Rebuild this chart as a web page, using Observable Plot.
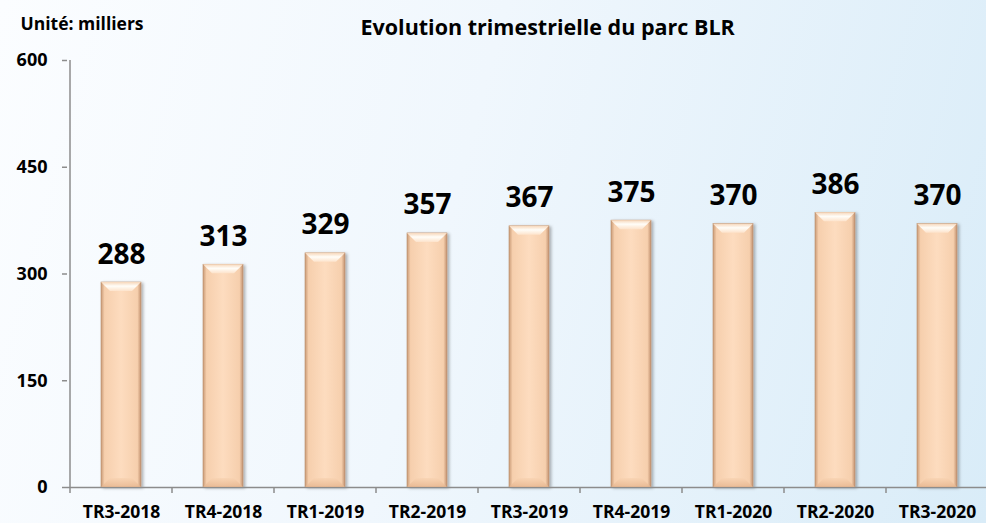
<!DOCTYPE html>
<html>
<head>
<meta charset="utf-8">
<script src="https://cdn.jsdelivr.net/npm/d3@7"></script>
<script src="https://cdn.jsdelivr.net/npm/@observablehq/plot@0.6"></script>
<style>
  html, body { margin: 0; padding: 0; width: 986px; height: 523px; overflow: hidden;
    background: linear-gradient(105deg, #fbfdff 0%, #f0f7fd 45%, #d9ecf8 100%); }
  #chart svg { display: block; }
</style>
</head>
<body>
<div id="chart"></div>
<script>
const categories = ["TR3-2018","TR4-2018","TR1-2019","TR2-2019","TR3-2019","TR4-2019","TR1-2020","TR2-2020","TR3-2020"];
const values = [288, 313, 329, 357, 367, 375, 370, 386, 370];
const yTicks = [0, 150, 300, 450, 600];
const title = "Evolution trimestrielle du parc BLR";
const unitLabel = "Unité: milliers";

const data = categories.map((c, i) => ({cat: c, value: values[i]}));
const font = "'Open Sans', 'DejaVu Sans', sans-serif";
const axisColor = "#8c8c8c";

const defs = () => {
  const g = d3.create("svg:defs");
  const body = g.append("linearGradient").attr("id", "barBody").attr("x1", 0).attr("x2", 1).attr("y1", 0).attr("y2", 0);
  body.append("stop").attr("offset", "0%").attr("stop-color", "#c99a76");
  body.append("stop").attr("offset", "9%").attr("stop-color", "#f6cfad");
  body.append("stop").attr("offset", "50%").attr("stop-color", "#fddcbf");
  body.append("stop").attr("offset", "91%").attr("stop-color", "#f6cfad");
  body.append("stop").attr("offset", "100%").attr("stop-color", "#c29270");
  const cap = g.append("linearGradient").attr("id", "barCap").attr("x1", 0).attr("x2", 0).attr("y1", 0).attr("y2", 1);
  cap.append("stop").attr("offset", "0%").attr("stop-color", "#f7d7ba");
  cap.append("stop").attr("offset", "45%").attr("stop-color", "#fffdf8");
  cap.append("stop").attr("offset", "100%").attr("stop-color", "#fde3cb");
  const bot = g.append("linearGradient").attr("id", "barBot").attr("x1", 0).attr("x2", 0).attr("y1", 0).attr("y2", 1);
  bot.append("stop").attr("offset", "0%").attr("stop-color", "#f8d3b2");
  bot.append("stop").attr("offset", "100%").attr("stop-color", "#e6b58e");
  const f = g.append("filter").attr("id", "shadow").attr("x", "-30%").attr("y", "-10%").attr("width", "160%").attr("height", "130%");
  f.append("feDropShadow").attr("dx", 2).attr("dy", 1).attr("stdDeviation", 1.5).attr("flood-color", "#000").attr("flood-opacity", 0.3);
  return g.node();
};

const chart = Plot.plot({
  width: 986,
  height: 523,
  marginTop: 60,
  marginBottom: 36,
  marginLeft: 67,
  marginRight: -5,
  style: {background: "transparent", fontFamily: font, color: "#000", overflow: "visible"},
  x: {domain: categories, paddingInner: 0.61, paddingOuter: 0.305, label: null, axis: null},
  y: {domain: [0, 600], label: null, axis: null},
  marks: [
    defs,
    Plot.barY(data, {x: "cat", y: "value", fill: "url(#barBody)", stroke: "#b98e6c", strokeWidth: 0.6}),
    Plot.axisY({ticks: yTicks, tickSize: 5, tickPadding: 15, stroke: axisColor, strokeWidth: 1.5, fontSize: 18, fontWeight: "bold", fill: "#000", label: null, tickFormat: d => d}),
    Plot.ruleY([0], {stroke: axisColor, strokeWidth: 1.5}),
    Plot.axisX({tickSize: 0, tickPadding: 18, fontSize: 17.5, fontWeight: "bold", fill: "#000", label: null}),
    Plot.text(data, {x: "cat", y: "value", text: d => String(d.value), lineAnchor: "bottom", dy: -19, fontSize: 28, fontWeight: "bold", fill: "#000"}),
    Plot.text([title], {frameAnchor: "top-left", textAnchor: "start", lineAnchor: "bottom", dx: 293, dy: -26, fontSize: 21.5, fontWeight: "bold", fill: "#000"}),
    Plot.text([unitLabel], {frameAnchor: "top-left", textAnchor: "start", lineAnchor: "bottom", dx: -47, dy: -31, fontSize: 17.5, fontWeight: "bold", fill: "#000"})
  ]
});

const root = d3.select(chart);
const xs = chart.scale("x");
const ys = chart.scale("y");
const bw = xs.bandwidth;
const step = xs.step;
const y0 = ys.apply(0);
const xLeft = xs.apply(categories[0]) - (step - bw) / 2;

// shadow on bars
root.selectAll("g[aria-label='bar']").attr("filter", "url(#shadow)");

// bevel caps on bars, derived from scales
const bevel = root.append("g");
data.forEach(d => {
  const x = xs.apply(d.cat), yt = ys.apply(d.value), b = 9;
  bevel.append("path")
    .attr("d", `M${x},${yt}H${x + bw}L${x + bw - b},${yt + b}H${x + b}Z`)
    .attr("fill", "url(#barCap)");
  bevel.append("path")
    .attr("d", `M${x},${y0}H${x + bw}L${x + bw - b},${y0 - b}H${x + b}Z`)
    .attr("fill", "url(#barBot)").attr("opacity", 0.8);
});

// y axis line
root.append("line").attr("x1", xLeft).attr("x2", xLeft)
  .attr("y1", ys.apply(600)).attr("y2", y0)
  .attr("stroke", axisColor).attr("stroke-width", 1.5);

// band-boundary ticks on x axis
const tickG = root.append("g").attr("stroke", axisColor).attr("stroke-width", 1.5);
categories.forEach((c) => {
  const left = xs.apply(c) - (step - bw) / 2;
  tickG.append("line").attr("x1", left).attr("x2", left).attr("y1", y0).attr("y2", y0 + 6);
});

document.getElementById("chart").appendChild(chart);
</script>
</body>
</html>
